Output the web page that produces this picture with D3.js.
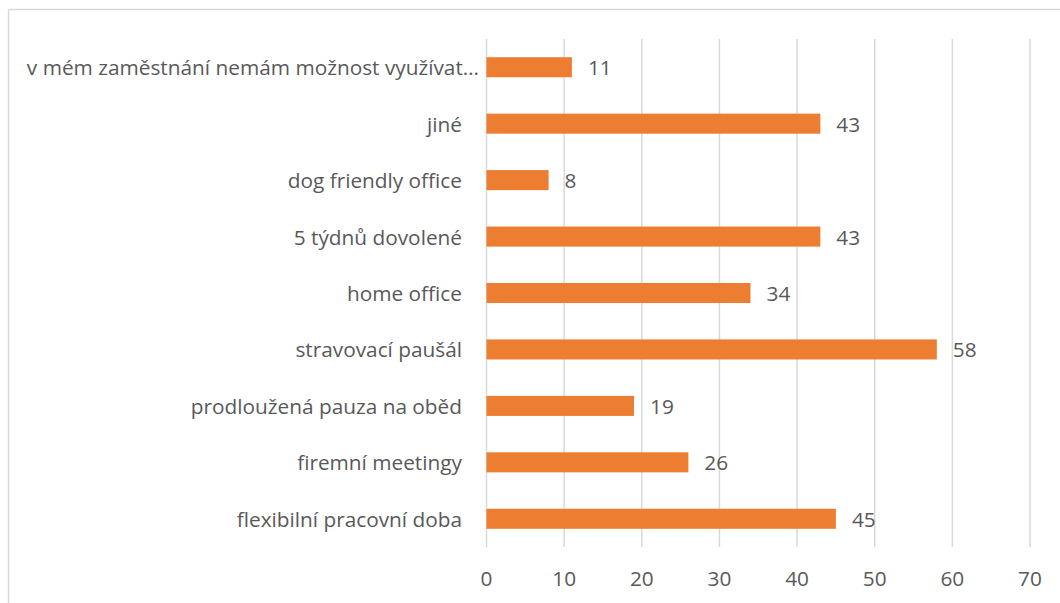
<!DOCTYPE html>
<html>
<head>
<meta charset="utf-8">
<script src="https://cdn.jsdelivr.net/npm/d3@7"></script>
<style>
  html, body { margin: 0; padding: 0; background: #ffffff; }
  svg { display: block; }
  text { font-family: "Open Sans", "Noto Sans", sans-serif; fill: #595959; }
</style>
</head>
<body>
<svg id="chart" width="1060" height="603"></svg>
<script>
// Benefits by number of responses (top to bottom as drawn)
const categories = [
  "v mém zaměstnání nemám možnost využívat…",
  "jiné",
  "dog friendly office",
  "5 týdnů dovolené",
  "home office",
  "stravovací paušál",
  "prodloužená pauza na oběd",
  "firemní meetingy",
  "flexibilní pracovní doba"
];
const values = [11, 43, 8, 43, 34, 58, 19, 26, 45];
const xTicks = [0, 10, 20, 30, 40, 50, 60, 70];

const svg = d3.select("#chart");
const W = 1060, H = 603;
const plot = { left: 486.5, right: 1030, top: 39, bottom: 547 };
const fontSize = 20.8;

// chart frame (top and left edges)
svg.append("line").attr("x1", 8.5).attr("x2", W).attr("y1", 9.5).attr("y2", 9.5)
  .attr("stroke", "#d9d9d9").attr("stroke-width", 1.5);
svg.append("line").attr("x1", 8.5).attr("x2", 8.5).attr("y1", 9.5).attr("y2", H)
  .attr("stroke", "#d9d9d9").attr("stroke-width", 1.5);

const x = d3.scaleLinear().domain([0, 70]).range([plot.left, plot.right]);
const y = d3.scaleBand().domain(categories).range([plot.top, plot.bottom])
  .paddingInner(0.645).paddingOuter(0.3225);

// vertical gridlines
svg.append("g").selectAll("line").data(xTicks).join("line")
  .attr("x1", d => x(d)).attr("x2", d => x(d))
  .attr("y1", plot.top).attr("y2", plot.bottom)
  .attr("stroke", "#d9d9d9").attr("stroke-width", 1.5);

// x tick labels
svg.append("g").selectAll("text").data(xTicks).join("text")
  .attr("x", d => x(d)).attr("y", 578)
  .attr("text-anchor", "middle").attr("dominant-baseline", "central")
  .attr("font-size", fontSize)
  .text(d => d);

// bars
svg.append("g").selectAll("rect").data(values).join("rect")
  .attr("x", x(0))
  .attr("y", (d, i) => y(categories[i]))
  .attr("width", d => x(d) - x(0))
  .attr("height", y.bandwidth())
  .attr("fill", "#ed7d31");

// value labels
svg.append("g").selectAll("text").data(values).join("text")
  .attr("x", d => x(d) + 16)
  .attr("y", (d, i) => y(categories[i]) + y.bandwidth() / 2)
  .attr("dominant-baseline", "central")
  .attr("font-size", fontSize)
  .text(d => d);

// category labels
svg.append("g").selectAll("text").data(categories).join("text")
  .attr("x", (d, i) => i === 0 ? 479 : 462)
  .attr("y", d => y(d) + y.bandwidth() / 2)
  .attr("text-anchor", "end").attr("dominant-baseline", "central")
  .attr("font-size", fontSize)
  .text(d => d);
</script>
</body>
</html>
